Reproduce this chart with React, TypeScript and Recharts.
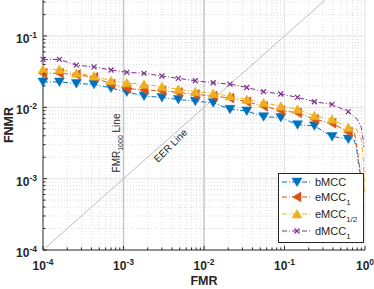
import React from "react";
import { LineChart, Line, XAxis, YAxis, ReferenceLine } from "recharts";

// marker positions along FMR (log spaced in the original plot)
const fmr = [1e-4, 1.6e-4, 2.6e-4, 4.3e-4, 7e-4, 1.1e-3, 1.8e-3, 3e-3, 4.8e-3, 7.8e-3, 1.3e-2, 2.1e-2, 3.4e-2, 5.5e-2, 9e-2, 0.145, 0.235, 0.39, 0.62];

const bmcc = [0.0227, 0.0227, 0.0216, 0.021, 0.0187, 0.0164, 0.0144, 0.0138, 0.0129, 0.0122, 0.0116, 0.0094, 0.0089, 0.0074, 0.0072, 0.0057, 0.0055, 0.0039, 0.0036];
const emcc1 = [0.03, 0.03, 0.0288, 0.0264, 0.0212, 0.0184, 0.0175, 0.0171, 0.0162, 0.0152, 0.0144, 0.0135, 0.012, 0.0104, 0.009, 0.0084, 0.0068, 0.006, 0.0045];
const emccHalf = [0.034, 0.034, 0.03, 0.0275, 0.0236, 0.0221, 0.021, 0.0195, 0.0179, 0.0166, 0.0157, 0.0144, 0.0129, 0.0116, 0.0104, 0.0094, 0.0076, 0.0068, 0.0052];
const dmcc1 = [0.047, 0.047, 0.039, 0.037, 0.0334, 0.031, 0.03, 0.0275, 0.0255, 0.0236, 0.0221, 0.0212, 0.019, 0.0166, 0.0154, 0.0138, 0.012, 0.011, 0.0087];

// steep drop at the right end (no markers there)
const bmccTailX = [0.72, 0.78, 0.82, 0.87, 0.92, 0.945];
const bmccTailY = [0.0036, 0.0028, 0.0018, 0.0012, 0.0007, 0.0005];
const emcc1TailX = [0.74, 0.8, 0.87, 0.93, 0.97];
const emcc1TailY = [0.0044, 0.0026, 0.0013, 0.0007, 0.00036];
const emccHalfTailX = [0.78, 0.9, 0.95, 0.97, 0.98];
const emccHalfTailY = [0.005, 0.0035, 0.002, 0.0012, 0.0006];
const dmcc1TailX = [0.8, 0.9, 0.95, 0.965];
const dmcc1TailY = [0.0068, 0.0052, 0.0035, 0.0028];

const majorX = [1e-4, 1e-3, 1e-2, 1e-1, 1];
const majorY = [1e-4, 1e-3, 1e-2, 1e-1];
const mults = [2, 3, 4, 5, 6, 7, 8, 9];
const minorX = majorX.slice(0, 4).flatMap((d) => mults.map((m) => m * d));
const minorY = majorY.flatMap((d) => mults.map((m) => m * d)).filter((v) => v < 0.32);

const build = (xs, ys, tx, ty) =>
  xs.map((x, i) => ({ x, y: ys[i], m: true })).concat(tx.map((x, i) => ({ x, y: ty[i], m: false })));

const series = [
  { key: "b", name: "bMCC", sub: "", color: "#0072BD", kind: "down", data: build(fmr, bmcc, bmccTailX, bmccTailY) },
  { key: "e1", name: "eMCC", sub: "1", color: "#D95319", kind: "left", data: build(fmr, emcc1, emcc1TailX, emcc1TailY) },
  { key: "eh", name: "eMCC", sub: "1/2", color: "#EDB120", kind: "up", data: build(fmr, emccHalf, emccHalfTailX, emccHalfTailY) },
  { key: "d1", name: "dMCC", sub: "1", color: "#7E2F8E", kind: "x", data: build(fmr, dmcc1, dmcc1TailX, dmcc1TailY) },
];

const FONT = "'Liberation Sans', Arial, sans-serif";
const AX = "#262626";

function Marker({ kind, cx, cy, color }) {
  if (kind === "down")
    return <polygon points={`${cx - 5},${cy - 4} ${cx + 5},${cy - 4} ${cx},${cy + 4.5}`} fill={color} stroke={color} strokeWidth={0.5} />;
  if (kind === "left")
    return <polygon points={`${cx + 4},${cy - 5} ${cx + 4},${cy + 5} ${cx - 4.5},${cy}`} fill={color} stroke={color} strokeWidth={0.5} />;
  if (kind === "up")
    return <polygon points={`${cx - 5},${cy + 4} ${cx + 5},${cy + 4} ${cx},${cy - 4.5}`} fill={color} stroke={color} strokeWidth={0.5} />;
  return (
    <path
      d={`M${cx - 2.5},${cy - 2.5}L${cx + 2.5},${cy + 2.5}M${cx - 2.5},${cy + 2.5}L${cx + 2.5},${cy - 2.5}`}
      stroke={color}
      strokeWidth={1.2}
      fill="none"
    />
  );
}

const isMajor = (list, v) => list.some((m) => Math.abs(m - v) / m < 1e-6);
const expOf = (v) => String(Math.round(Math.log10(v)));

function XTick(props) {
  const { x, y, payload } = props;
  const v = payload.value;
  const major = isMajor(majorX, v);
  return (
    <g>
      <line x1={x} x2={x} y1={y} y2={y - (major ? 4 : 2.5)} stroke={AX} />
      {major && (
        <text x={x} y={y + 19.5} textAnchor="middle" fontFamily={FONT} fontWeight="bold" fontSize={12} fill={AX}>
          <tspan>10</tspan>
          <tspan dy={-5} fontSize={8.5}>{expOf(v)}</tspan>
        </text>
      )}
    </g>
  );
}

function YTick(props) {
  const { x, y, payload } = props;
  const v = payload.value;
  const major = isMajor(majorY, v);
  return (
    <g>
      <line x1={x} x2={x + (major ? 4 : 2.5)} y1={y} y2={y} stroke={AX} />
      {major && (
        <text x={x - 6} y={y + 7} textAnchor="end" fontFamily={FONT} fontWeight="bold" fontSize={12} fill={AX}>
          <tspan>10</tspan>
          <tspan dy={-5} fontSize={8.5}>{expOf(v)}</tspan>
        </text>
      )}
    </g>
  );
}

const dash = "5 2 1 2";

export default function App() {
  return (
    <div style={{ position: "relative", width: 374, height: 289, background: "#fff" }}>
      <style>{"body{margin:0}"}</style>
      <LineChart width={374} height={289} margin={{ top: 0, right: 9, bottom: 0, left: 0 }}>
        <XAxis
          dataKey="x"
          type="number"
          scale="log"
          domain={[1e-4, 1]}
          ticks={[...majorX, ...minorX].sort((a, b) => a - b)}
          interval={0}
          height={39}
          tickSize={0}
          tickMargin={0}
          tickLine={false}
          axisLine={{ stroke: AX }}
          tick={<XTick />}
        />
        <YAxis
          dataKey="y"
          type="number"
          scale="log"
          domain={[1e-4, 0.32]}
          allowDataOverflow
          ticks={[...majorY, ...minorY].sort((a, b) => a - b)}
          interval={0}
          width={43}
          tickSize={0}
          tickMargin={0}
          tickLine={false}
          axisLine={{ stroke: AX }}
          tick={<YTick />}
        />
        {minorX.map((v) => (
          <ReferenceLine key={"mx" + v} x={v} stroke="#dedede" strokeDasharray="1 2" />
        ))}
        {minorY.map((v) => (
          <ReferenceLine key={"my" + v} y={v} stroke="#dedede" strokeDasharray="1 2" />
        ))}
        {[1e-1, 1].map((v) => (
          <ReferenceLine key={"gx" + v} x={v} stroke="#e3e3e3" />
        ))}
        {[1e-3, 1e-2, 1e-1].map((v) => (
          <ReferenceLine key={"gy" + v} y={v} stroke="#e3e3e3" />
        ))}
        {[1e-3, 1e-2].map((v) => (
          <ReferenceLine key={"fl" + v} x={v} stroke="#c6c6c6" strokeWidth={1.5} />
        ))}
        <ReferenceLine
          segment={[
            { x: 1e-4, y: 1e-4 },
            { x: 0.316, y: 0.316 },
          ]}
          stroke="#bdbdbd"
        />
        {series.map((s) => (
          <Line
            key={s.key}
            data={s.data}
            dataKey="y"
            name={s.name + s.sub}
            type="linear"
            stroke={s.color}
            strokeWidth={1}
            strokeDasharray={dash}
            isAnimationActive={false}
            activeDot={false}
            dot={(p) =>
              p.payload.m ? (
                <Marker key={s.key + p.index} kind={s.kind} cx={p.cx} cy={p.cy} color={s.color} />
              ) : (
                <g key={s.key + p.index} />
              )
            }
          />
        ))}
      </LineChart>
      <svg width={374} height={289} style={{ position: "absolute", left: 0, top: 0, pointerEvents: "none" }}>
        <text x={204} y={285} textAnchor="middle" fontFamily={FONT} fontWeight="bold" fontSize={12.5} fill={AX}>
          FMR
        </text>
        <text
          x={13}
          y={125}
          transform="rotate(-90 13 125)"
          textAnchor="middle"
          fontFamily={FONT}
          fontWeight="bold"
          fontSize={12.5}
          fill={AX}
        >
          FNMR
        </text>
        <text x={120} y={143} transform="rotate(-90 120 143)" textAnchor="middle" fontFamily={FONT} fontSize={10} fill={AX}>
          <tspan>FMR</tspan>
          <tspan dy={3} fontSize={7}>1000</tspan>
          <tspan dy={-3}> Line</tspan>
        </text>
        <text x={173} y={148} transform="rotate(-45 173 148)" textAnchor="middle" fontFamily={FONT} fontSize={10} fill={AX}>
          EER Line
        </text>
        <rect x={278.5} y={173.5} width={85} height={69} fill="#fff" stroke={AX} strokeWidth={1} />
        {series.map((s, i) => {
          const cy = [182, 197, 214, 231][i];
          return (
            <g key={s.key}>
              <line x1={282} x2={312} y1={cy} y2={cy} stroke={s.color} strokeDasharray={dash} />
              <Marker kind={s.kind} cx={297} cy={cy} color={s.color} />
              <text x={315} y={cy + 4} fontFamily={FONT} fontSize={11} fill={AX}>
                <tspan>{s.name}</tspan>
                {s.sub && (
                  <tspan dy={3.5} fontSize={8}>
                    {s.sub}
                  </tspan>
                )}
              </text>
            </g>
          );
        })}
      </svg>
    </div>
  );
}
